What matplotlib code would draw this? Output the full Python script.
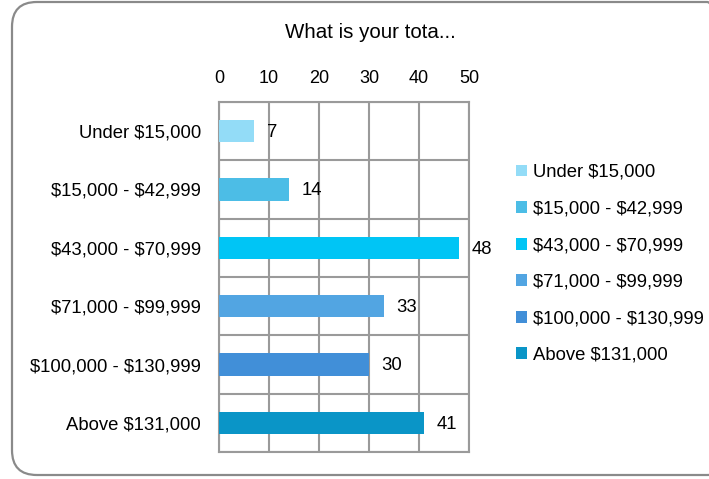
import matplotlib.pyplot as plt
from matplotlib.patches import FancyBboxPatch

categories = ['Under $15,000', '$15,000 - $42,999', '$43,000 - $70,999',
              '$71,000 - $99,999', '$100,000 - $130,999', 'Above $131,000']
values = [7, 14, 48, 33, 30, 41]
colors = ['#93dcf7', '#4cbde6', '#00c5f5', '#52a5e2', '#418fd8', '#0a95c7']
title = 'What is your tota...'
x_ticks = [0, 10, 20, 30, 40, 50]

plt.rcParams['font.family'] = ['Liberation Sans', 'DejaVu Sans']
plt.rcParams['text.parse_math'] = False

W, H = 709, 479
fig = plt.figure(figsize=(W / 100, H / 100), dpi=100)

# rounded outer frame (right side runs off the picture)
frame = FancyBboxPatch((12 / W, 4 / H), 720 / W, 473 / H,
                       boxstyle='round,pad=0,rounding_size=0.035',
                       transform=fig.transFigure, facecolor='none',
                       edgecolor='#8a8a8a', linewidth=1.6, mutation_aspect=W / H,
                       zorder=-1)
fig.patches.append(frame)

ax = fig.add_axes([219 / W, 1 - 452 / H, 250 / W, 350 / H])
ax.set_facecolor('none')

y = list(range(len(categories)))
bars = ax.barh(y, values, height=0.38, color=colors, label=categories, zorder=3)
ax.set_ylim(len(categories) - 0.5, -0.5)
ax.set_xlim(0, 50)

ax.xaxis.tick_top()
ax.set_xticks(x_ticks)
ax.set_yticks([i - 0.5 for i in range(len(categories) + 1)], minor=True)
ax.set_yticks(y)
ax.set_yticklabels(categories, fontsize=13.3)
ax.tick_params(axis='both', which='both', length=0)
ax.tick_params(axis='x', pad=11, labelsize=13)
ax.tick_params(axis='y', pad=13)

ax.grid(True, axis='x', color='#9a9a9a', linewidth=1.5, zorder=1)
ax.grid(True, axis='y', which='minor', color='#9a9a9a', linewidth=1.5, zorder=1)
for s in ax.spines.values():
    s.set_color('#9a9a9a')
    s.set_linewidth(1.5)

for b, v in zip(bars, values):
    ax.annotate(str(v), (v, b.get_y() + b.get_height() / 2), xytext=(9, -1),
                textcoords='offset points', va='center', ha='left', fontsize=13.3)

fig.text(370 / W, 1 - 33 / H, title, ha='center', va='center', fontsize=14.8)

fig.legend(handles=list(bars), labels=categories, loc='upper left',
           bbox_to_anchor=(516 / W, 1 - 164 / H), frameon=False, fontsize=13.3,
           handlelength=0.62, handleheight=0.62, handletextpad=0.3, labelspacing=1.06,
           borderaxespad=0, borderpad=0)

fig.savefig('out.png', dpi=100)
